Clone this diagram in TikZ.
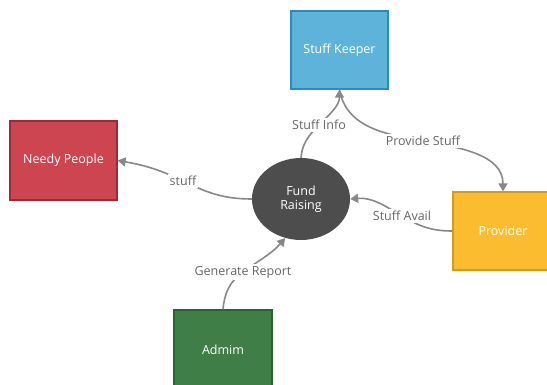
\documentclass[tikz,border=0pt]{standalone}
\usepackage{fontspec}
\setmainfont{Open Sans}
\usetikzlibrary{arrows.meta,shapes.geometric}
\definecolor{skfill}{HTML}{5DB3DA}
\definecolor{skdraw}{HTML}{2B8AC0}
\definecolor{npfill}{HTML}{CC4550}
\definecolor{npdraw}{HTML}{9E2A35}
\definecolor{pvfill}{HTML}{FCBC30}
\definecolor{pvdraw}{HTML}{D49A1C}
\definecolor{adfill}{HTML}{3F7E47}
\definecolor{addraw}{HTML}{2C6232}
\definecolor{frfill}{HTML}{4D4D4D}
\definecolor{edgec}{HTML}{888888}
\definecolor{lblc}{HTML}{666666}
\begin{document}
\begin{tikzpicture}[x=1pt,y=1pt,
  box/.style={rectangle, line width=1.2pt, text=white, font=\fontsize{12.5}{14}\selectfont, inner sep=0pt},
  edge/.style={draw=edgec, line width=1.6pt, -{Triangle[length=8pt,width=9pt]}},
  lbl/.style={fill=white, text=lblc, font=\fontsize{12.5}{14}\selectfont, inner sep=2pt}]
\useasboundingbox (0,0) rectangle (547,385);
\clip (0,0) rectangle (547,385);
\node[box, fill=skfill, draw=skdraw, minimum width=97pt, minimum height=78pt] (sk) at (339.5,335) {Stuff Keeper};
\node[box, fill=npfill, draw=npdraw, minimum width=107pt, minimum height=79pt] (np) at (63.5,224.5) {Needy People};
\node[box, fill=pvfill, draw=pvdraw, minimum width=100pt, minimum height=78pt] (pv) at (503,154) {Provider};
\node[box, fill=adfill, draw=addraw, minimum width=98pt, minimum height=80pt] (ad) at (223,35) {Admim};
\node[ellipse, fill=frfill, text=white, align=center, inner sep=0pt, minimum width=98pt, minimum height=82pt, font=\fontsize{12.5}{14}\selectfont] (fr) at (301,186) {Fund\\Raising};
\coordinate (c1) at (319,260);
\coordinate (c2) at (423,244);
\coordinate (c3) at (183,204);
\coordinate (c4) at (402,169);
\coordinate (c5) at (243,113);
\draw[edge] (fr.north) to[out=85,in=-135] (c1) to[out=45,in=-90] (sk.south);
\draw[edge] (sk.south) to[out=-80,in=170] (c2) to[out=-10,in=90] (pv.north);
\draw[edge] (fr.west) to[out=180,in=-26] (c3) to[out=154,in=-10] (np.east);
\draw[edge] (pv.west) to[out=180,in=-31] (c4) to[out=149,in=5] (fr.east);
\draw[edge] (ad.north) to[out=85,in=-144] (c5) to[out=36,in=-131] (fr.-112);
\node[lbl] (t1) at (c1) {Stuff Info};
\node[lbl] (t2) at (c2) {Provide Stuff};
\node[lbl] (t3) at (c3) {stuff};
\node[lbl] (t4) at (c4) {Stuff Avail};
\node[lbl] (t5) at (c5) {Generate Report};
\end{tikzpicture}
\end{document}
